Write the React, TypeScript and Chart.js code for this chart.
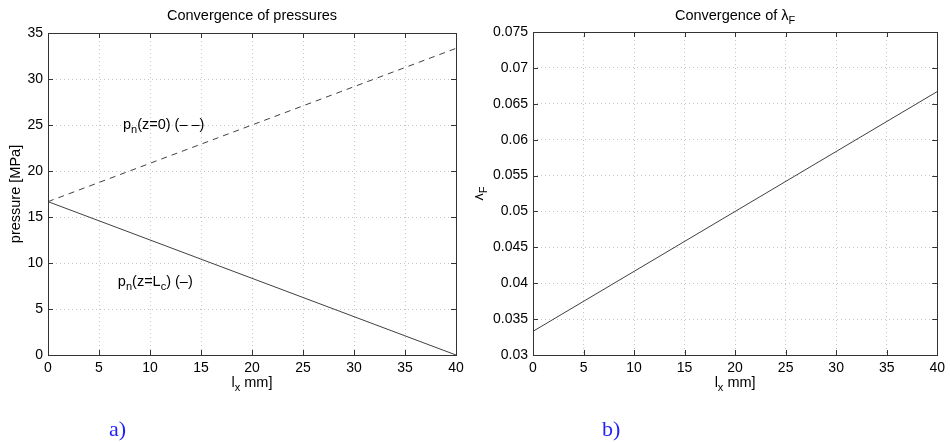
import React, { useEffect, useRef } from "react";
import { Chart, registerables } from "chart.js";

Chart.register(...registerables);

// ---- data ----
const lengthMm = [0, 40];
const pressureZ0 = [16.67, 33.33];
const pressureZLc = [16.67, 0];
const lambdaF = [0.0333, 0.0667];

const xTickStep = 5;
const pressureRange = [0, 35];
const pressureStep = 5;
const lambdaRange = [0.03, 0.075];
const lambdaStep = 0.005;

const FONT = "'Liberation Sans', Arial, Helvetica, sans-serif";
const LINE = "#404040";
const GRID = "#c4c4c4";
const BOX = "#333333";
const TEXT_SIZE = 14.5;

type Part = { t: string; sub?: boolean };

function partFont(p: Part, size: number) {
  return `${p.sub ? Math.round(size * 0.75) : size}px ${FONT}`;
}

function drawRich(ctx: CanvasRenderingContext2D, parts: Part[], x: number, y: number, align: "left" | "center", size = TEXT_SIZE) {
  let w = 0;
  for (const p of parts) {
    ctx.font = partFont(p, size);
    w += ctx.measureText(p.t).width;
  }
  let cx = align === "center" ? x - w / 2 : x;
  ctx.textAlign = "left";
  ctx.textBaseline = "alphabetic";
  for (const p of parts) {
    ctx.font = partFont(p, size);
    ctx.fillText(p.t, cx, p.sub ? y + 4 : y);
    cx += ctx.measureText(p.t).width;
  }
}

type Note = { parts: Part[]; x: number; y: number };

type Deco = {
  title: Part[];
  xTitle: Part[];
  yTitle: Part[];
  yTitleX: number;
  label: string;
  labelX: number;
  notes: Note[];
};

function decoPlugin(d: Deco) {
  return {
    id: "deco",
    afterDraw(chart: any) {
      const ctx: CanvasRenderingContext2D = chart.ctx;
      const a = chart.chartArea;
      const xs = chart.scales.x;
      const ys = chart.scales.y;
      ctx.save();
      // box
      ctx.strokeStyle = BOX;
      ctx.lineWidth = 1;
      ctx.setLineDash([]);
      ctx.strokeRect(Math.round(a.left) + 0.5, Math.round(a.top) + 0.5, Math.round(a.right - a.left), Math.round(a.bottom - a.top));
      // inward ticks
      ctx.beginPath();
      for (const t of xs.ticks) {
        const px = Math.round(xs.getPixelForValue(t.value)) + 0.5;
        ctx.moveTo(px, a.bottom);
        ctx.lineTo(px, a.bottom - 5);
        ctx.moveTo(px, a.top);
        ctx.lineTo(px, a.top + 5);
      }
      for (const t of ys.ticks) {
        const py = Math.round(ys.getPixelForValue(t.value)) + 0.5;
        ctx.moveTo(a.left, py);
        ctx.lineTo(a.left + 5, py);
        ctx.moveTo(a.right, py);
        ctx.lineTo(a.right - 5, py);
      }
      ctx.stroke();
      ctx.fillStyle = "#000";
      const cx = (a.left + a.right) / 2;
      const cy = (a.top + a.bottom) / 2;
      drawRich(ctx, d.title, cx, 20, "center");
      drawRich(ctx, d.xTitle, cx, 387, "center");
      ctx.save();
      ctx.translate(d.yTitleX, cy);
      ctx.rotate(-Math.PI / 2);
      drawRich(ctx, d.yTitle, 0, 0, "center");
      ctx.restore();
      for (const n of d.notes) {
        drawRich(ctx, n.parts, xs.getPixelForValue(n.x), ys.getPixelForValue(n.y), "left");
      }
      ctx.fillStyle = "#1f1fff";
      ctx.font = `22px 'Liberation Serif', 'Times New Roman', serif`;
      ctx.textAlign = "left";
      ctx.fillText(d.label, d.labelX, 436);
      ctx.restore();
    },
  };
}

function makeScales(yMin: number, yMax: number, yStep: number, yWidth: number, fmt?: (v: number) => string) {
  const tickFont = { family: FONT, size: 14 };
  return {
    x: {
      type: "linear",
      min: lengthMm[0],
      max: lengthMm[lengthMm.length - 1],
      ticks: { stepSize: xTickStep, color: "#000", font: tickFont, padding: 5, maxRotation: 0 },
      grid: { color: GRID, drawTicks: false, lineWidth: 1 },
      border: { display: false, dash: [1, 3] },
      afterFit: (s: any) => { s.height = 87; },
    },
    y: {
      type: "linear",
      min: yMin,
      max: yMax,
      ticks: {
        stepSize: yStep,
        color: "#000",
        font: tickFont,
        padding: 5,
        callback: fmt ? (v: any) => fmt(Number(v)) : (v: any) => String(v),
      },
      grid: { color: GRID, drawTicks: false, lineWidth: 1 },
      border: { display: false, dash: [1, 3] },
      afterFit: (s: any) => { s.width = yWidth; },
    },
  };
}

function PressureChart() {
  const ref = useRef<HTMLCanvasElement>(null);
  useEffect(() => {
    const chart = new Chart(ref.current!, {
      type: "line",
      data: {
        datasets: [
          {
            data: lengthMm.map((x, i) => ({ x, y: pressureZ0[i] })),
            borderColor: LINE,
            borderWidth: 1,
            borderDash: [6, 5],
            pointRadius: 0,
          },
          {
            data: lengthMm.map((x, i) => ({ x, y: pressureZLc[i] })),
            borderColor: LINE,
            borderWidth: 1,
            pointRadius: 0,
          },
        ],
      },
      options: {
        responsive: false,
        animation: false,
        layout: { padding: { top: 33, right: 19, left: 0, bottom: 0 } },
        plugins: { legend: { display: false }, tooltip: { enabled: false } },
        scales: makeScales(pressureRange[0], pressureRange[1], pressureStep, 48) as any,
      },
      plugins: [
        decoPlugin({
          title: [{ t: "Convergence of pressures" }],
          xTitle: [{ t: "l" }, { t: "x", sub: true }, { t: " mm]" }],
          yTitle: [{ t: "pressure [MPa]" }],
          yTitleX: 20,
          label: "a)",
          labelX: 109,
          notes: [
            { parts: [{ t: "p" }, { t: "n", sub: true }, { t: "(z=0) (– –)" }], x: 7.35, y: 24.6 },
            { parts: [{ t: "p" }, { t: "n", sub: true }, { t: "(z=L" }, { t: "c", sub: true }, { t: ") (–)" }], x: 6.85, y: 7.5 },
          ],
        }) as any,
      ],
    });
    return () => chart.destroy();
  }, []);
  return <canvas ref={ref} width={475} height={442} style={{ position: "absolute", left: 0, top: 0 }} />;
}

function LambdaChart() {
  const ref = useRef<HTMLCanvasElement>(null);
  useEffect(() => {
    const chart = new Chart(ref.current!, {
      type: "line",
      data: {
        datasets: [
          {
            data: lengthMm.map((x, i) => ({ x, y: lambdaF[i] })),
            borderColor: LINE,
            borderWidth: 1,
            pointRadius: 0,
          },
        ],
      },
      options: {
        responsive: false,
        animation: false,
        layout: { padding: { top: 32, right: 9, left: 0, bottom: 0 } },
        plugins: { legend: { display: false }, tooltip: { enabled: false } },
        scales: makeScales(lambdaRange[0], lambdaRange[1], lambdaStep, 58, (v) => String(parseFloat(v.toFixed(3)))) as any,
      },
      plugins: [
        decoPlugin({
          title: [{ t: "Convergence of λ" }, { t: "F", sub: true }],
          xTitle: [{ t: "l" }, { t: "x", sub: true }, { t: " mm]" }],
          yTitle: [{ t: "λ" }, { t: "F", sub: true }],
          yTitleX: 8,
          label: "b)",
          labelX: 127,
          notes: [],
        }) as any,
      ],
    });
    return () => chart.destroy();
  }, []);
  return <canvas ref={ref} width={475} height={442} style={{ position: "absolute", left: 475, top: 0 }} />;
}

export default function App() {
  return (
    <div style={{ position: "absolute", left: 0, top: 0, width: 950, height: 442, background: "#fff" }}>
      <PressureChart />
      <LambdaChart />
    </div>
  );
}
